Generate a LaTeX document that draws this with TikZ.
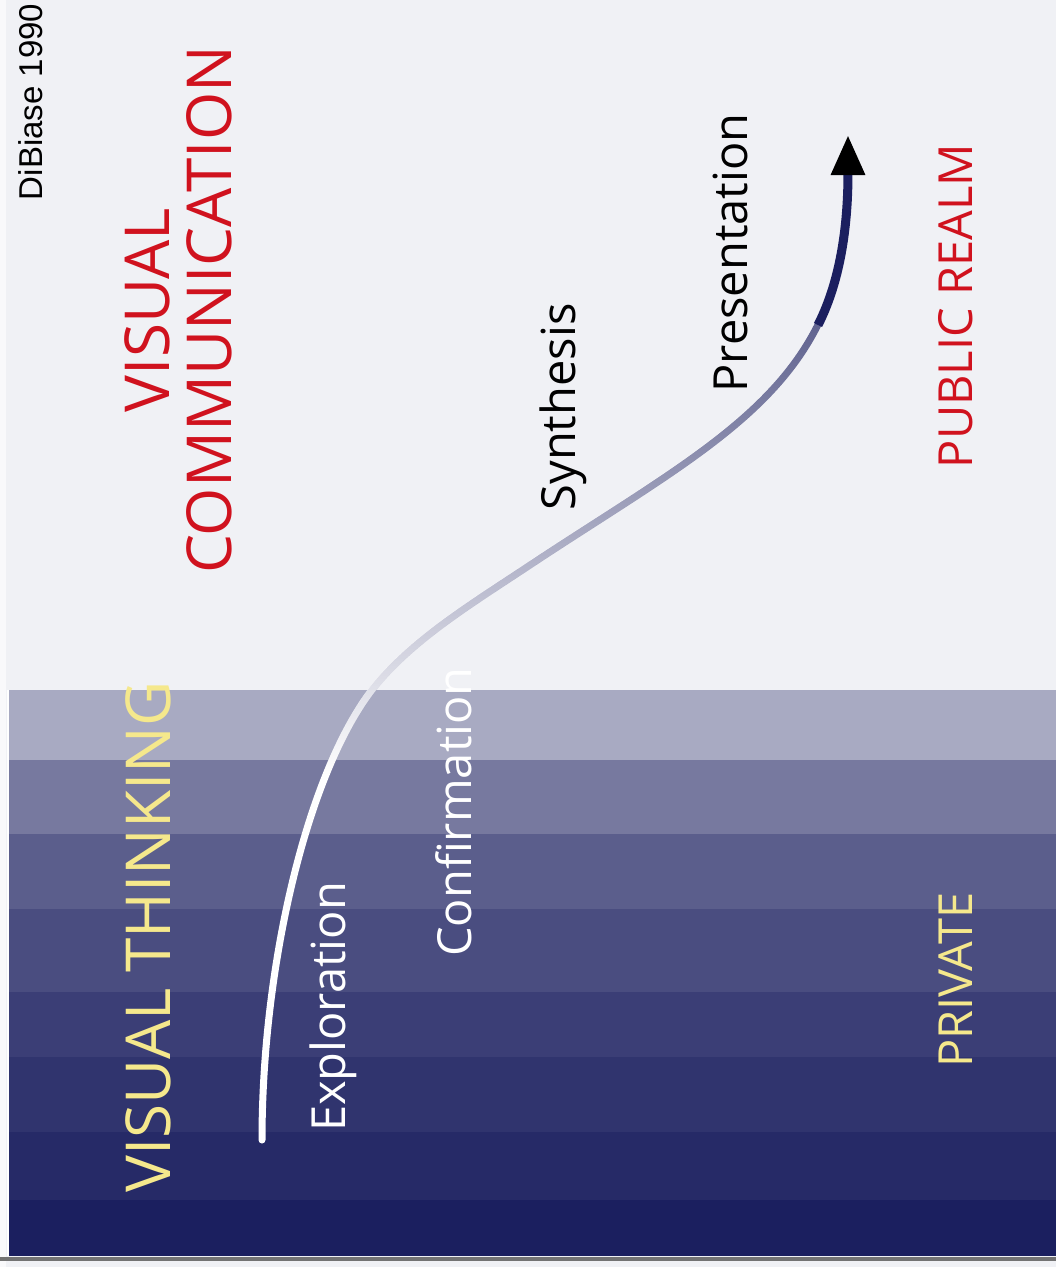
\documentclass[tikz,border=0pt]{standalone}
\usepackage{fontspec}
\setmainfont{Open Sans}
\newfontfamily\creditfont{Liberation Sans}
\usetikzlibrary{arrows.meta,fadings}

\definecolor{paper}{RGB}{240,241,245}
\definecolor{navy}{RGB}{27,31,95}
\definecolor{realmred}{RGB}{208,18,30}
\definecolor{thinkyellow}{RGB}{245,232,140}

\pgfdeclareverticalshading{arcshade}{100bp}{color(0bp)=(pgftransparent!100); color(44bp)=(pgftransparent!100); color(62bp)=(pgftransparent!45); color(78bp)=(pgftransparent!0); color(100bp)=(pgftransparent!0)}
\pgfdeclarefading{arcfade}{\pgfuseshading{arcshade}}

\tikzset{
  stage/.style={rotate=90, anchor=base, font=\fontsize{47}{50}\selectfont},
  heading/.style={rotate=90, anchor=base, font=\fontsize{62}{62}\selectfont},
  arc/.style={line width=7, line cap=round}
}

\begin{document}
\begin{tikzpicture}[x=1pt, y=-1pt]
\useasboundingbox (0,0) rectangle (1056,1267);

\fill[paper] (0,0) rectangle (1056,1267);
\fill[white!60!paper] (0,0) rectangle (6,1267);
\foreach \ya/\yb/\tone in {690/760/34, 760/834/57, 834/909/70, 909/992/78, 992/1057/85, 1057/1132/90, 1132/1200/95, 1200/1256/100}
  \fill[navy!\tone!paper] (9,\ya) rectangle (1056,\yb);
\draw[white, line width=2] (8,690) -- (8,1256);
\fill[black!55] (0,1257) rectangle (1056,1261);

\coordinate (start) at (262,1140);
\coordinate (turn) at (380,680);
\coordinate (bend) at (537,560);
\coordinate (neck) at (848,175);
\coordinate (tip) at (848,135);

\draw[arc, white] (start) .. controls (262,960) and (310,760) .. (turn) .. controls (420,634) and (477,600) .. (bend) .. controls (727,435) and (850,380) .. (neck);
\draw[arc, navy, path fading=arcfade] (start) .. controls (262,960) and (310,760) .. (turn) .. controls (420,634) and (477,600) .. (bend) .. controls (727,435) and (850,380) .. (neck);
\draw[navy, line width=9, -{Triangle[length=40pt, width=32pt, color=black]}] (818,325) .. controls (842,278) and (848,220) .. (tip);

\node[rotate=90, anchor=base, font=\creditfont\fontsize{33}{36}\selectfont] (credit) at (42,102) {DiBiase 1990};
\node[heading, realmred, anchor=center, align=center] (commhead) at (178,310) {VISUAL\\COMMUNICATION};
\node[heading, thinkyellow] (thinkhead) at (170,937) {VISUAL THINKING};
\node[stage, white] (explore) at (345,1007) {Exploration};
\node[stage, white] (confirm) at (471,812) {Confirmation};
\node[stage] (synth) at (575,407) {Synthesis};
\node[stage] (present) at (747,253) {Presentation};
\node[stage, realmred] (public) at (972,306) {PUBLIC REALM};
\node[stage, thinkyellow] (private) at (972,980) {PRIVATE};
\end{tikzpicture}
\end{document}
